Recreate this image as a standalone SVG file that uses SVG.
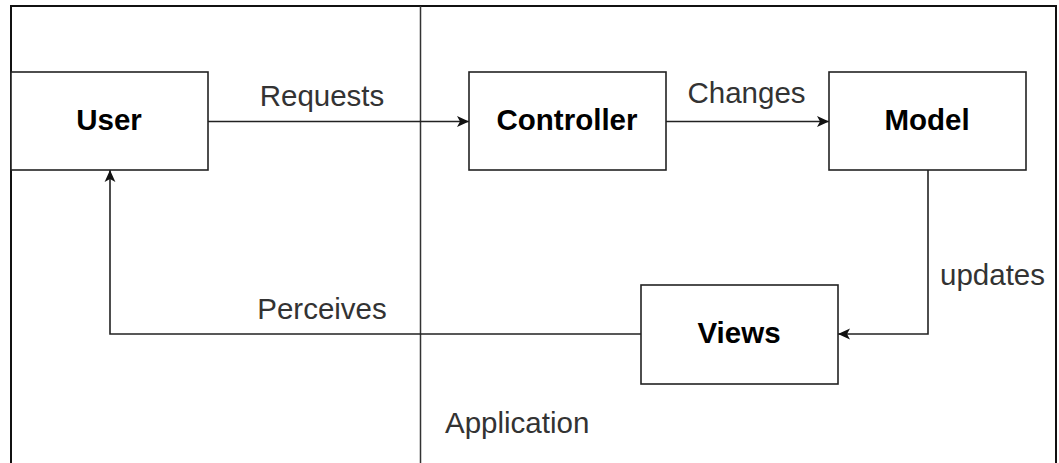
<svg xmlns="http://www.w3.org/2000/svg" width="1059" height="463" viewBox="0 0 1059 463">
  <style>
    .frame { fill: none; stroke: #111; stroke-width: 2; }
    .divider { fill: none; stroke: #333; stroke-width: 1.5; }
    .box { fill: #fff; stroke: #222; stroke-width: 1.6; }
    .name { font-family: "Liberation Sans", Arial, sans-serif; font-size: 29.5px; font-weight: bold; fill: #000; text-anchor: middle; }
    .label { font-family: "Liberation Sans", Arial, sans-serif; font-size: 29.5px; fill: #333; text-anchor: middle; }
    .edge { fill: none; stroke: #222; stroke-width: 1.6; }
  </style>
  <defs>
    <marker id="arrow" viewBox="0 0 10 10" refX="10" refY="5" markerWidth="12" markerHeight="12" markerUnits="userSpaceOnUse" orient="auto">
      <path d="M0,0.5 L10,5 L0,9.5 L2.5,5 Z" fill="#111"/>
    </marker>
  </defs>

  <rect width="1059" height="463" fill="#fff"/>

  <!-- outer frame and application boundary -->
  <g id="frame">
    <path class="frame" d="M11,470 L11,6 L1056,6 L1056,470"/>
    <line class="divider" x1="420.5" y1="6" x2="420.5" y2="470"/>
    <text class="label" x="445" y="433" style="text-anchor:start">Application</text>
  </g>

  <!-- connectors -->
  <g id="connectors">
    <line class="edge" x1="208" y1="121.5" x2="469" y2="121.5" marker-end="url(#arrow)"/>
    <text class="label" x="322" y="105.5">Requests</text>
    <line class="edge" x1="666" y1="121.5" x2="829" y2="121.5" marker-end="url(#arrow)"/>
    <text class="label" x="746.5" y="103">Changes</text>
    <polyline class="edge" points="928,170 928,334 838,334" marker-end="url(#arrow)"/>
    <text class="label" x="992.5" y="285">updates</text>
    <polyline class="edge" points="641,334 110,334 110,170" marker-end="url(#arrow)"/>
    <text class="label" x="322" y="319">Perceives</text>
  </g>

  <g id="user">
    <rect class="box" x="11" y="72" width="197" height="98"/>
    <text class="name" x="109" y="129.5">User</text>
  </g>

  <g id="controller">
    <rect class="box" x="469" y="72" width="197" height="98"/>
    <text class="name" x="567" y="130">Controller</text>
  </g>

  <g id="model">
    <rect class="box" x="829" y="72" width="197" height="98"/>
    <text class="name" x="927" y="130">Model</text>
  </g>

  <g id="views">
    <rect class="box" x="641" y="285" width="197" height="99"/>
    <text class="name" x="739" y="343">Views</text>
  </g>
</svg>
